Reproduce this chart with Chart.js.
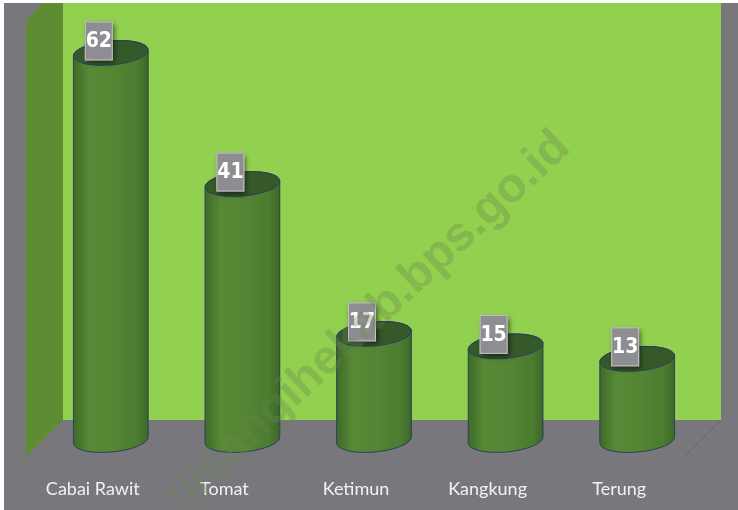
<!DOCTYPE html>
<html><head><meta charset="utf-8">
<script src="https://cdn.jsdelivr.net/npm/chart.js@4.4.1/dist/chart.umd.min.js"></script>
<style>html,body{margin:0;padding:0;background:#fff;}#c{display:block}</style>
</head><body>
<canvas id="c" width="738" height="510"></canvas>
<script>
const categories = ['Cabai Rawit', 'Tomat', 'Ketimun', 'Kangkung', 'Terung'];
const values = [62, 41, 17, 15, 13];
const yMin = 0;
const yMax = 70;
const watermarkText = '://sangihekab.bps.go.id';

const LABEL_FONT = "Lato, 'DejaVu Sans Condensed', sans-serif";
const NUM_FONT = "'DejaVu Sans Condensed', 'Liberation Sans', sans-serif";

const scenePlugin = {
  id: 'scene',
  beforeDraw(chart) {
    const ctx = chart.ctx, a = chart.chartArea;
    ctx.save();
    ctx.fillStyle = '#ffffff';
    ctx.fillRect(0, 0, chart.width, chart.height);
    ctx.fillStyle = '#78787c';
    ctx.fillRect(4, 3, chart.width - 4, chart.height - 3);
    const bl = a.left + 18, br = a.right + 18, bt = a.top, bb = a.bottom - 20;
    ctx.fillStyle = '#92d050';
    ctx.fillRect(bl, bt, br - bl, bb - bt);
    ctx.fillStyle = '#5f8b32';
    ctx.beginPath();
    ctx.moveTo(bl, bt);
    ctx.lineTo(bl, bb);
    ctx.lineTo(bl - 37, bb + 37);
    ctx.lineTo(bl - 37, bt + 17);
    ctx.lineTo(bl - 20, bt);
    ctx.closePath();
    ctx.fill();
    ctx.strokeStyle = 'rgba(95,95,100,0.6)';
    ctx.lineWidth = 1;
    ctx.beginPath();
    ctx.moveTo(br, bb);
    ctx.lineTo(br - 38, bb + 38);
    ctx.stroke();
    ctx.restore();
  },
  afterDatasetsDraw(chart) {
    const ctx = chart.ctx;
    const meta = chart.getDatasetMeta(0);
    meta.data.forEach((el, i) => {
      const p = el.getProps(['x', 'y', 'base', 'width'], true);
      const cx = p.x, rx = p.width / 2, ry = 12, rot = -0.09;
      const topY = p.y, botY = p.base;
      ctx.save();
      const g = ctx.createLinearGradient(cx - rx, 0, cx + rx, 0);
      g.addColorStop(0, '#3e6a27');
      g.addColorStop(0.22, '#578a36');
      g.addColorStop(0.55, '#538534');
      g.addColorStop(0.85, '#4b7c2f');
      g.addColorStop(1, '#3d6826');
      ctx.beginPath();
      ctx.ellipse(cx, topY, rx, ry, rot, Math.PI, 2 * Math.PI, false);
      ctx.ellipse(cx, botY, rx, ry, rot, 0, Math.PI, false);
      ctx.closePath();
      ctx.fillStyle = g;
      ctx.fill();
      ctx.strokeStyle = '#2b3e5e';
      ctx.lineWidth = 1;
      ctx.stroke();
      ctx.beginPath();
      ctx.ellipse(cx, topY, rx, ry, rot, 0, 2 * Math.PI);
      ctx.fillStyle = '#36592a';
      ctx.fill();
      ctx.stroke();
      ctx.restore();
      const bw = 28, bh = 39;
      const bx = cx - 12 - bw / 2, by = topY - 12 - bh / 2;
      ctx.save();
      ctx.shadowColor = 'rgba(0,0,0,0.55)';
      ctx.shadowBlur = 5;
      ctx.shadowOffsetX = 2;
      ctx.shadowOffsetY = 3;
      ctx.fillStyle = '#8e8e92';
      ctx.fillRect(bx, by, bw, bh);
      ctx.shadowColor = 'transparent';
      ctx.strokeStyle = '#c4c4c6';
      ctx.lineWidth = 1;
      ctx.strokeRect(bx + 0.5, by + 0.5, bw - 1, bh - 1);
      ctx.fillStyle = '#ffffff';
      ctx.font = 'bold 21px ' + NUM_FONT;
      ctx.textAlign = 'center';
      ctx.textBaseline = 'middle';
      ctx.fillText(String(values[i]), bx + bw / 2, by + bh / 2 + 1);
      ctx.restore();
    });
  },
  afterDraw(chart) {
    const ctx = chart.ctx;
    ctx.save();
    ctx.translate(368, 322);
    ctx.rotate(-43 * Math.PI / 180);
    ctx.font = 'bold 48px Arial, "Liberation Sans", sans-serif';
    ctx.fillStyle = 'rgba(105,135,80,0.33)';
    ctx.textAlign = 'center';
    ctx.textBaseline = 'middle';
    ctx.fillText(watermarkText, 0, 0);
    ctx.restore();
  }
};

new Chart(document.getElementById('c'), {
  type: 'bar',
  data: {
    labels: categories,
    datasets: [{
      data: values,
      backgroundColor: 'rgba(0,0,0,0)',
      borderWidth: 0,
      categoryPercentage: 1,
      barPercentage: 0.57
    }]
  },
  options: {
    responsive: false,
    animation: false,
    devicePixelRatio: 1,
    layout: { padding: { left: 45, right: 35, top: 3, bottom: 0 } },
    plugins: { legend: { display: false }, tooltip: { enabled: false }, title: { display: false } },
    scales: {
      x: {
        grid: { display: false, drawTicks: false },
        border: { display: false },
        afterFit(scale) { scale.height = 70; },
        ticks: {
          color: '#f2f2f2',
          font: { size: 18, family: LABEL_FONT },
          padding: 38,
          labelOffset: -18,
          maxRotation: 0
        }
      },
      y: {
        display: false,
        min: yMin,
        max: yMax
      }
    }
  },
  plugins: [scenePlugin]
});
</script>
</body></html>
